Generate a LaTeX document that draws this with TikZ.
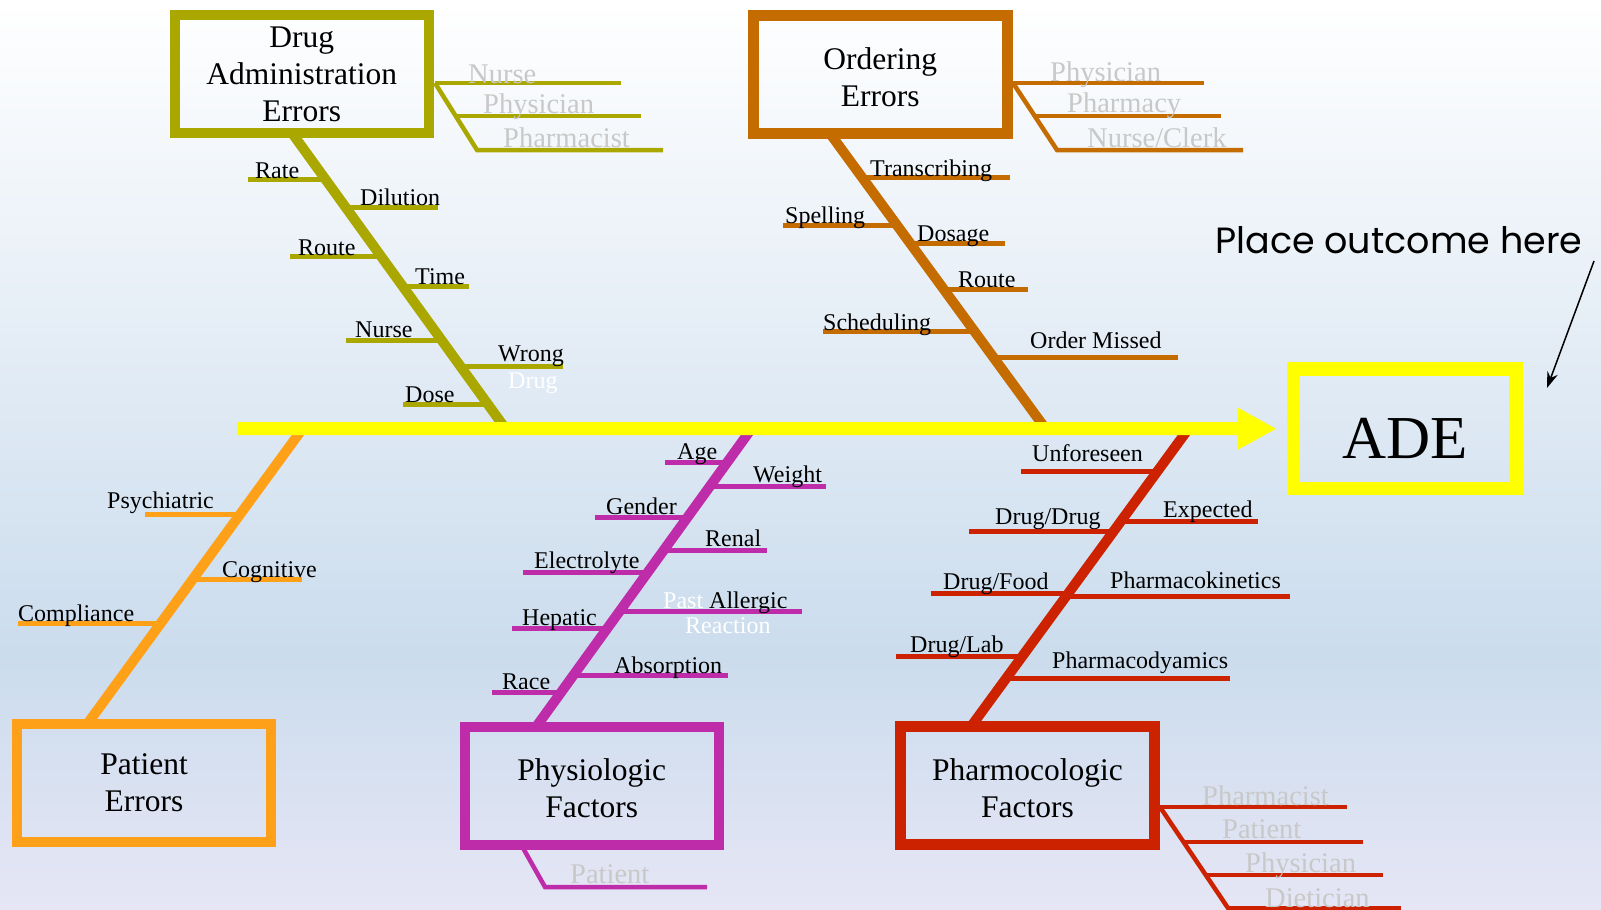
\documentclass[tikz,border=0pt]{standalone}
\usepackage{fontspec}
\setmainfont{Liberation Serif}
\newfontfamily\outcomefont{Poppins}
\usetikzlibrary{arrows.meta,positioning,calc}

\definecolor{olivebone}{RGB}{170,168,0}
\definecolor{orderbone}{RGB}{197,108,0}
\definecolor{patientbone}{RGB}{255,160,25}
\definecolor{physbone}{RGB}{191,44,170}
\definecolor{pharmbone}{RGB}{204,34,0}
\definecolor{spineyellow}{RGB}{255,255,0}
\definecolor{whogray}{RGB}{200,200,200}
\definecolor{bgbottom}{RGB}{230,230,245}
\definecolor{bgmid}{RGB}{203,220,237}

\pgfdeclareverticalshading{slidebg}{100bp}{color(0bp)=(bgbottom); color(25bp)=(bgbottom); color(39bp)=(bgmid); color(75bp)=(white); color(100bp)=(white)}

\newcommand{\boxfont}{\fontsize{31.5}{37}\selectfont}
\newcommand{\lblfont}{\fontsize{24}{28}\selectfont}
\newcommand{\whofont}{\fontsize{28.5}{32}\selectfont}
\newcommand{\adefont}{\fontsize{61}{64}\selectfont}

\begin{document}
\begin{tikzpicture}[
        x=1pt, y=-1pt,
        catbox/.style={rectangle, draw, line width=10.5pt, minimum width=254pt, minimum height=118pt, align=center, font=\boxfont, inner sep=0pt},
        bone/.style={line width=10pt},
        twig/.style={line width=5pt},
        leaf/.style={line width=4.5pt},
        lbl/.style={font=\lblfont, inner sep=0pt, anchor=base west},
        who/.style={font=\whofont, text=whogray, inner sep=0pt, anchor=base west},
        spine/.style={line width=13pt, draw=spineyellow, -{Triangle[length=39pt,width=39pt]}, shorten >=10pt}
    ]

    % Background
    \useasboundingbox (0,0) rectangle (1601,910);
    \fill[shading=slidebg] (0,0) rectangle (1601,910);

    % Bone end points
    \coordinate (daT) at (292,133);   \coordinate (daS) at (505,428);
    \coordinate (oeT) at (830,133.5); \coordinate (oeS) at (1045,428);
    \coordinate (peT) at (88,723);    \coordinate (peS) at (303,428);
    \coordinate (pfT) at (536,727);   \coordinate (pfS) at (752,428);
    \coordinate (phT) at (971,726.5); \coordinate (phS) at (1189,428);
    \coordinate (spL) at (237,428.5);

    % Drug administration bone
    \draw[bone, olivebone] (daT) -- (daS);
    \path (daT) -- (daS) coordinate[pos=0.159] (da1) coordinate[pos=0.254] (da2) coordinate[pos=0.420] (da3)
        coordinate[pos=0.519] (da4) coordinate[pos=0.702] (da5) coordinate[pos=0.790] (da6) coordinate[pos=0.919] (da7);
    \draw[twig, olivebone] (da1) -- ++(-78,0);
    \draw[twig, olivebone] (da2) -- ++(92,0);
    \draw[twig, olivebone] (da3) -- ++(-91,0);
    \draw[twig, olivebone] (da4) -- ++(66,0);
    \draw[twig, olivebone] (da5) -- ++(-96,0);
    \draw[twig, olivebone] (da6) -- ++(103,0);
    \draw[twig, olivebone] (da7) -- ++(-85,0);

    % Ordering bone
    \draw[bone, orderbone] (oeT) -- (oeS);
    \path (oeT) -- (oeS) coordinate[pos=0.151] (oe1) coordinate[pos=0.311] (oe2) coordinate[pos=0.372] (oe3)
        coordinate[pos=0.531] (oe4) coordinate[pos=0.674] (oe5) coordinate[pos=0.762] (oe6);
    \draw[twig, orderbone] (oe1) -- ++(148,0);
    \draw[twig, orderbone] (oe2) -- ++(-114,0);
    \draw[twig, orderbone] (oe3) -- ++(95,0);
    \draw[twig, orderbone] (oe4) -- ++(84,0);
    \draw[twig, orderbone] (oe5) -- ++(-152,0);
    \draw[twig, orderbone] (oe6) -- ++(184,0);

    % Patient bone
    \draw[bone, patientbone] (peT) -- (peS);
    \path (peS) -- (peT) coordinate[pos=0.292] (pe1) coordinate[pos=0.512] (pe2) coordinate[pos=0.664] (pe3);
    \draw[twig, patientbone] (pe1) -- ++(-95,0);
    \draw[twig, patientbone] (pe2) -- ++(109,0);
    \draw[twig, patientbone] (pe3) -- ++(-142,0);

    % Physiologic bone
    \draw[bone, physbone] (pfT) -- (pfS);
    \path (pfS) -- (pfT) coordinate[pos=0.117] (pf1) coordinate[pos=0.194] (pf2) coordinate[pos=0.298] (pf3)
        coordinate[pos=0.408] (pf4) coordinate[pos=0.482] (pf5) coordinate[pos=0.615] (pf6)
        coordinate[pos=0.669] (pf7) coordinate[pos=0.829] (pf8) coordinate[pos=0.883] (pf9);
    \draw[twig, physbone] (pf1) -- ++(-62,0);
    \draw[twig, physbone] (pf2) -- ++(116,0);
    \draw[twig, physbone] (pf3) -- ++(-93,0);
    \draw[twig, physbone] (pf4) -- ++(103,0);
    \draw[twig, physbone] (pf5) -- ++(-125,0);
    \draw[twig, physbone] (pf6) -- ++(183,0);
    \draw[twig, physbone] (pf7) -- ++(-96,0);
    \draw[twig, physbone] (pf8) -- ++(155,0);
    \draw[twig, physbone] (pf9) -- ++(-69,0);

    % Pharmacologic bone
    \draw[bone, pharmbone] (phT) -- (phS);
    \path (phS) -- (phT) coordinate[pos=0.147] (ph1) coordinate[pos=0.348] (ph2) coordinate[pos=0.312] (ph3)
        coordinate[pos=0.553] (ph4) coordinate[pos=0.566] (ph5) coordinate[pos=0.764] (ph6) coordinate[pos=0.838] (ph7);
    \draw[twig, pharmbone] (ph1) -- ++(-136,0);
    \draw[twig, pharmbone] (ph2) -- ++(-144,0);
    \draw[twig, pharmbone] (ph3) -- ++(137,0);
    \draw[twig, pharmbone] (ph4) -- ++(-137,0);
    \draw[twig, pharmbone] (ph5) -- ++(224,0);
    \draw[twig, pharmbone] (ph6) -- ++(-126,0);
    \draw[twig, pharmbone] (ph7) -- ++(224,0);

    % Who lines
    \coordinate (daLeg) at (435,83);
    \draw[leaf, olivebone] (daLeg) -- ++(186,0);
    \draw[leaf, olivebone] (daLeg) -- (477,150) -- ++(186,0);
    \draw[leaf, olivebone] (456,116) -- ++(185,0);
    \coordinate (oeLeg) at (1013,83);
    \draw[leaf, orderbone] (oeLeg) -- ++(191,0);
    \draw[leaf, orderbone] (oeLeg) -- (1057,150) -- ++(186,0);
    \draw[leaf, orderbone] (1035,116) -- ++(186,0);
    \coordinate (pfLeg) at (523,848);
    \draw[leaf, physbone] (pfLeg) -- (545,887) -- ++(162,0);
    \coordinate (phLeg) at (1160,807);
    \draw[leaf, pharmbone] (phLeg) -- ++(187,0);
    \draw[leaf, pharmbone] (phLeg) -- (1232,914);
    \draw[leaf, pharmbone] (1183,842) -- ++(180,0);
    \draw[leaf, pharmbone] (1205,875) -- ++(178,0);
    \draw[leaf, pharmbone] (1227,908) -- ++(174,0);

    % Category boxes
    \node[catbox, draw=olivebone] (da) at (301.75,74) {Drug\\Administration\\Errors};
    \node[catbox, draw=orderbone, line width=11pt] (oe) at (880.25,74.25) {\rule{0pt}{28pt}Ordering\\Errors};
    \node[catbox, draw=patientbone] (pe) at (144,782.75) {Patient\\Errors};
    \node[catbox, draw=physbone] (pf) at (591.75,786) {\rule{0pt}{26pt}Physiologic\\Factors};
    \node[catbox, draw=pharmbone, line width=11pt] (ph) at (1027.5,785.5) {\rule{0pt}{28pt}Pharmocologic\\Factors};

    % Spine and outcome
    \node[catbox, draw=spineyellow, line width=13.5pt, minimum width=222.5pt, minimum height=119.5pt,
        font=\adefont, text height=60pt, text depth=0pt] (ade) at (1404.75,428.75) {ADE};
    \draw[spine] (spL) -- (ade.west);
    \node[font=\outcomefont\fontsize{36.5}{40}\selectfont, inner sep=0pt, anchor=base west] (outcome) at (1215,253) {Place outcome here};
    \coordinate (outA) at (1594,261);
    \coordinate (outB) at (1547,388);
    \draw[-{Stealth[length=16pt,width=11pt]}, line width=1.5pt] (outA) -- (outB);

    % Drug administration labels
    \node[lbl] (rate) at (255,178) {Rate};
    \node[lbl] (dilution) at (360,205) {Dilution};
    \node[lbl] (daroute) at (298,255) {Route};
    \node[lbl] (time) at (415,284) {Time};
    \node[lbl] (danurse) at (355,337) {Nurse};
    \node[lbl] (wrong) at (498,361) {Wrong};
    \node[lbl, text=white] (wrongdrug) at (508,388) {Drug};
    \node[lbl] (dose) at (405,402) {Dose};

    % Ordering labels
    \node[lbl] (transcribing) at (870,176) {Transcribing};
    \node[lbl] (spelling) at (785,223) {Spelling};
    \node[lbl] (dosage) at (917,241) {Dosage};
    \node[lbl] (oeroute) at (958,287) {Route};
    \node[lbl] (scheduling) at (823,330) {Scheduling};
    \node[lbl] (missed) at (1030,348) {Order Missed};

    % Patient labels
    \node[lbl] (psychiatric) at (107,508) {Psychiatric};
    \node[lbl] (cognitive) at (222,577) {Cognitive};
    \node[lbl] (compliance) at (18,621) {Compliance};

    % Physiologic labels
    \node[lbl] (age) at (677,459) {Age};
    \node[lbl] (weight) at (753,482) {Weight};
    \node[lbl] (gender) at (606,514) {Gender};
    \node[lbl] (renal) at (705,546) {Renal};
    \node[lbl] (electrolyte) at (534,568) {Electrolyte};
    \node[lbl] (allergic) at (663,608) {\textcolor{white}{Past} Allergic};
    \node[lbl, text=white] (reaction) at (685,633) {Reaction};
    \node[lbl] (hepatic) at (522,625) {Hepatic};
    \node[lbl] (absorption) at (614,673) {Absorption};
    \node[lbl] (race) at (502,689) {Race};

    % Pharmacologic labels
    \node[lbl] (unforeseen) at (1032,461) {Unforeseen};
    \node[lbl] (drugdrug) at (995,524) {Drug/Drug};
    \node[lbl] (expected) at (1163,517) {Expected};
    \node[lbl] (drugfood) at (943,589) {Drug/Food};
    \node[lbl] (kinetics) at (1110,588) {Pharmacokinetics};
    \node[lbl] (druglab) at (910,652) {Drug/Lab};
    \node[lbl] (dynamics) at (1052,668) {Pharmacodyamics};

    % Who labels
    \node[who] (danurseW) at (468,83) {Nurse};
    \node[who] (daphysW) at (483,113) {Physician};
    \node[who] (dapharmW) at (503,147) {Pharmacist};
    \node[who] (oephysW) at (1050,81) {Physician};
    \node[who] (oepharmW) at (1067,112) {Pharmacy};
    \node[who] (oeclerkW) at (1087,147) {Nurse/Clerk};
    \node[who] (pfpatW) at (570,883) {Patient};
    \node[who] (phpharmW) at (1202,805) {Pharmacist};
    \node[who] (phpatW) at (1222,838) {Patient};
    \node[who] (phphysW) at (1245,872) {Physician};
    \node[who] (phdietW) at (1265,907) {Dietician};

\end{tikzpicture}
\end{document}
